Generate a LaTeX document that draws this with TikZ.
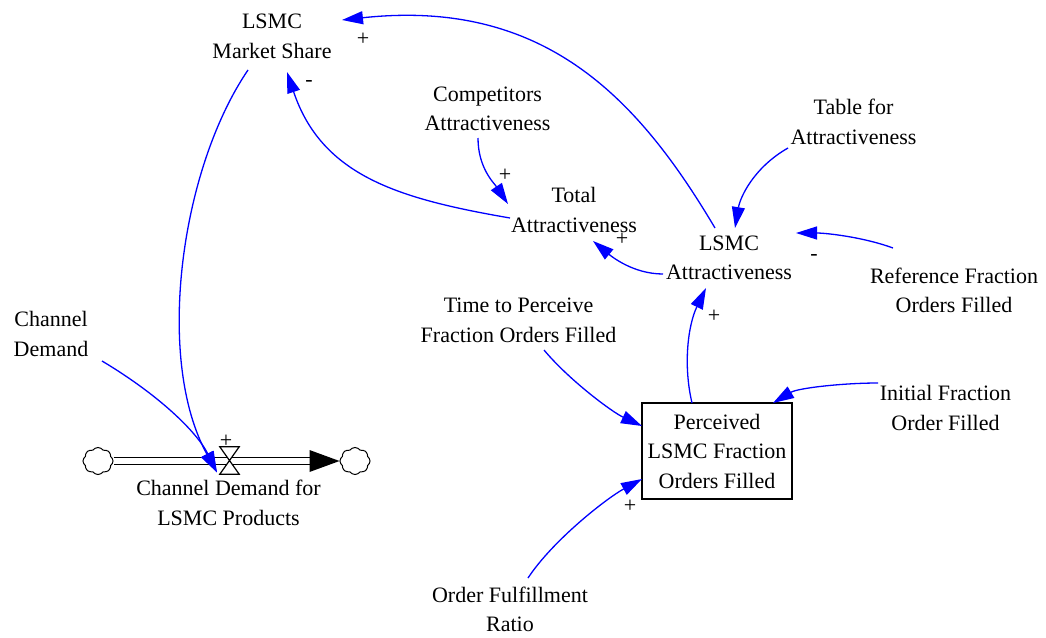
\documentclass[tikz,border=0pt]{standalone}
\usepackage{fontspec}
\setmainfont{Liberation Serif}
\usetikzlibrary{arrows.meta,calc,shapes.symbols}
\definecolor{linkblue}{RGB}{0,0,255}
\tikzset{
  var/.style={align=center, inner sep=0pt, font=\fontsize{22}{29.5}\selectfont},
  pol/.style={inner sep=0pt, font=\fontsize{22}{26}\selectfont},
  lnk/.style={draw=linkblue, line width=1.3pt, -{Triangle[length=21pt,width=13pt]}},
  stockbox/.style={draw, line width=1.3pt, align=center, inner sep=0pt,
    minimum width=150pt, minimum height=96pt, font=\fontsize{22}{29.5}\selectfont},
  cloudnode/.style={cloud, cloud puffs=8, cloud puff arc=110, aspect=1.1, draw,
    line width=1pt, minimum width=30pt, minimum height=27pt, inner sep=0pt},
  pipe/.style={line width=1.2pt, double=white, double distance=5.8pt}
}
\begin{document}
\begin{tikzpicture}[x=1pt,y=-1pt]
\useasboundingbox (0,0) rectangle (1046,637);
% variables
\node[var] (ms) at (272,36.5) {LSMC\\Market Share};
\node[var] (comp) at (487.5,109) {Competitors\\Attractiveness};
\node[var] (table) at (853.5,122) {Table for\\Attractiveness};
\node[var] (total) at (574,210) {Total\\Attractiveness};
\node[var] (attr) at (729,258) {LSMC\\Attractiveness};
\node[var] (ref) at (954,290.5) {Reference Fraction\\Orders Filled};
\node[var] (time) at (518.5,320.5) {Time to Perceive\\Fraction Orders Filled};
\node[var] (cd) at (51,334) {Channel\\Demand};
\node[var] (init) at (945.5,408) {Initial Fraction\\Order Filled};
\node[var] (ofr) at (510,609.5) {Order Fulfillment\\Ratio};
\node[stockbox] (perc) at (717,451) {Perceived\\LSMC Fraction\\Orders Filled};
% flow
\node[cloudnode] (lc) at (98,461) {};
\node[cloudnode] (rc) at (355,461) {};
\node[minimum width=19pt, minimum height=27pt, inner sep=0pt] (valve) at (229.5,460.5) {};
\draw[pipe, shorten >=30pt] (lc.east) -- (rc.west);
\fill ($(rc.west)+(-30,-11)$) -- (rc.west) -- ($(rc.west)+(-30,11)$) -- cycle;
\draw[line width=1.2pt, fill=white] (valve.north west) -- (valve.north east) -- (valve.south west) -- (valve.south east) -- cycle;
\node[var] (flowlab) at (228.5,503) {Channel Demand for\\LSMC Products};
\node[pol] (pv) at (226,441) {+};
% links
\draw[lnk] ($(ms)+(-24,33.5)$) .. controls (180,170) and (155,360) .. ($(valve)+(-12.5,12)$);
\draw[lnk] ($(cd)+(51,27)$) .. controls (159,395) and (197,432) .. ($(valve)+(-12.5,12)$);
\draw[lnk] ($(attr)+(-14,-30)$) .. controls (638.5,99) and (545,-2) .. ($(ms)+(70,-16.5)$);
\draw[lnk] ($(total)+(-64,8)$) .. controls (400,199) and (322,176.5) .. ($(ms)+(15,35.5)$);
\draw[lnk] ($(comp)+(-9.5,29)$) .. controls (478,168) and (494,183) .. ($(total)+(-66,-6)$);
\draw[lnk] ($(attr)+(-66,16)$) .. controls (633,274) and (611,256) .. ($(total)+(19,31)$);
\draw[lnk] ($(table)+(-65.5,26)$) .. controls (753,168) and (740,198) .. ($(attr)+(6,-30)$);
\draw[lnk] ($(ref)+(-61,-42.5)$) .. controls (863,237) and (826,233) .. ($(attr)+(67,-25)$);
\draw[lnk] ($(perc)+(-25,-48)$) .. controls (683,365) and (688,325) .. ($(attr)+(-23,30)$);
\draw[lnk] ($(init)+(-67.5,-25)$) .. controls (843,383) and (798,388) .. ($(perc)+(56,-48)$);
\draw[lnk] ($(time)+(25.5,29.5)$) .. controls (569,380) and (612,412) .. ($(perc)+(-75,-25)$);
\draw[lnk] ($(ofr)+(18,-31.5)$) .. controls (553,540) and (607,498) .. ($(perc)+(-75,28)$);
% polarities
\node[pol] (p1) at (363,39) {+};
\node[pol] (p2) at (309,83.8) {-};
\node[pol] (p3) at (505,175) {+};
\node[pol] (p4) at (622,239) {+};
\node[pol] (p5) at (814,257.8) {-};
\node[pol] (p6) at (714,316) {+};
\node[pol] (p7) at (630,506) {+};
\end{tikzpicture}
\end{document}
